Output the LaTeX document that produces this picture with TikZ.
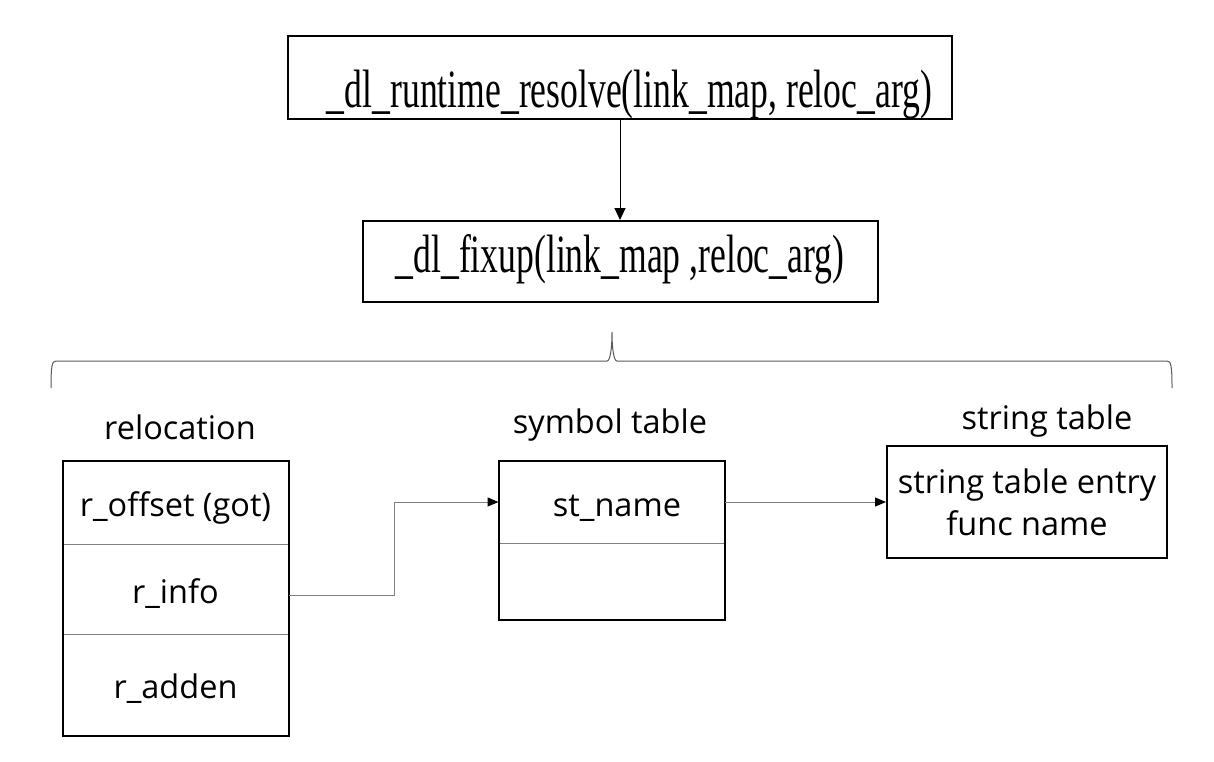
\documentclass[tikz,border=0pt]{standalone}
\usepackage{fontspec}
\setmainfont{Liberation Serif}
\setsansfont{Open Sans}
\newfontfamily\callfont[FakeStretch=0.66]{Liberation Serif}
\usetikzlibrary{arrows.meta}

\begin{document}
\begin{tikzpicture}[x=1pt,y=-1pt,
  callbox/.style={draw,line width=2pt,inner sep=0pt,font=\callfont\fontsize{54}{60}\selectfont},
  tabtitle/.style={anchor=base,font=\sffamily\fontsize{32.5}{38}\selectfont},
  cell/.style={draw=gray,line width=1pt,inner sep=0pt,minimum width=225pt,text height=28pt,text depth=0pt,font=\sffamily\fontsize{32.5}{38}\selectfont},
  tabframe/.style={line width=2pt},
  link/.style={draw=gray,line width=1pt,-{Triangle[length=11pt,width=9pt,color=black]}}]
\useasboundingbox (0,0) rectangle (1214,761);
% the two calls
\node[callbox,minimum width=664pt,minimum height=83pt,text height=60pt,text depth=1pt] (resolve) at (620,77.5) {\hspace*{19pt}\_dl\_runtime\_resolve(link\_map, reloc\_arg)};
\node[callbox,minimum width=515pt,minimum height=81pt,text height=35pt,text depth=14pt] (fixup) at (620,261.5) {\_dl\_fixup(link\_map ,reloc\_arg)};
\draw[line width=1pt,-{Triangle[length=12pt,width=11pt]}] (resolve) -- (fixup);
% brace
\draw[line width=1pt,gray!70!black] (51,388) .. controls (51,366) and (52,361) .. (56,361) -- (607,361) .. controls (610,361) and (612,350) .. (612,332) .. controls (612,350) and (614,361) .. (617,361) -- (1167,361) .. controls (1171,361) and (1172,366) .. (1172,388);
% tables
\node[tabtitle] (reltitle) at (180,439) {relocation};
\node[tabtitle] (symtitle) at (610,433) {symbol table};
\node[tabtitle] (strtitle) at (1047,429) {string table};
\node[cell,minimum height=83pt] (roffset) at (175.5,502.5) {r\_offset (got)};
\node[cell,minimum height=90pt] (rinfo) at (175.5,589) {r\_info};
\node[cell,minimum height=101pt] (radden) at (175.5,684.5) {r\_adden};
\draw[tabframe] (roffset.north west) rectangle (radden.south east);
\node[cell,minimum height=82pt] (stname) at (611.5,502) {\hspace*{11pt}st\_name};
\node[cell,minimum height=76pt] (stempty) at (611.5,581) {};
\draw[tabframe] (stname.north west) rectangle (stempty.south east);
\node[draw,tabframe,minimum width=280pt,minimum height=112pt,inner sep=0pt,align=center,font=\sffamily\fontsize{32.5}{42}\selectfont] (strentry) at (1027,502) {string table entry\\func name};
\draw[link] ([yshift=-6pt]rinfo.east) -- ++(106,0) |- (stname.west);
\draw[link] (stname.east) -- (strentry.west);
\end{tikzpicture}
\end{document}
